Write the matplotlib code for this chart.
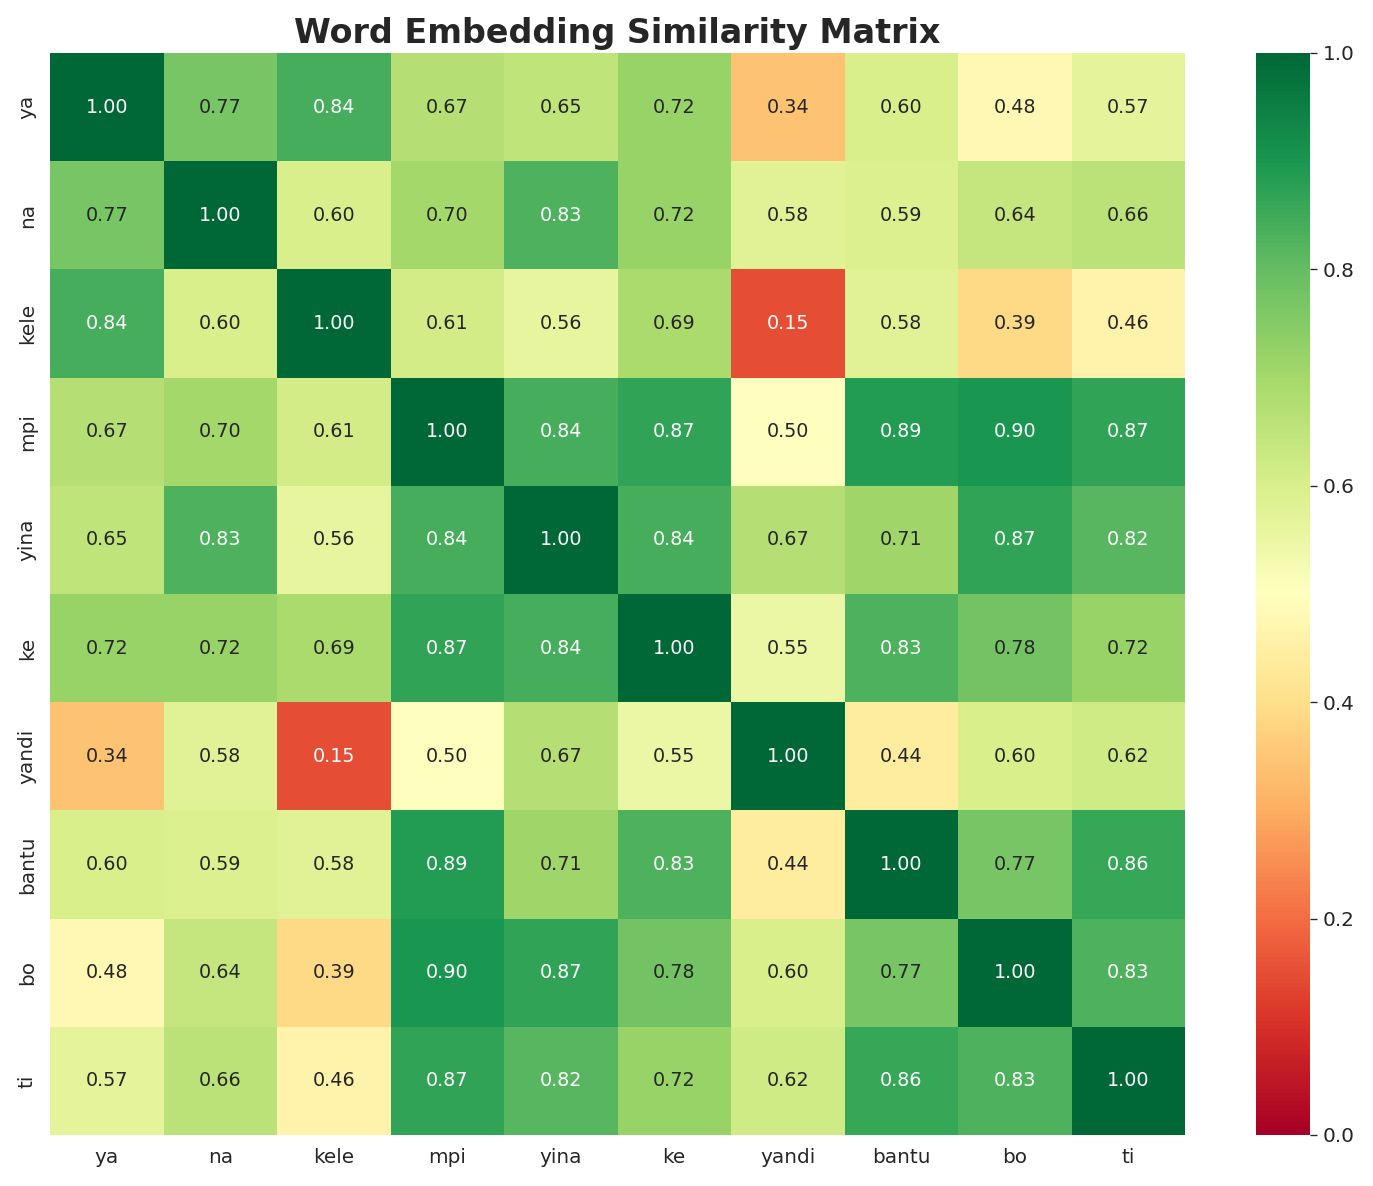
import matplotlib
matplotlib.use("Agg")
import matplotlib.pyplot as plt
import seaborn as sns
import numpy as np

words = ["ya", "na", "kele", "mpi", "yina", "ke", "yandi", "bantu", "bo", "ti"]
row_ya    = [1.00, 0.77, 0.84, 0.67, 0.65, 0.72, 0.34, 0.60, 0.48, 0.57]
row_na    = [0.77, 1.00, 0.60, 0.70, 0.83, 0.72, 0.58, 0.59, 0.64, 0.66]
row_kele  = [0.84, 0.60, 1.00, 0.61, 0.56, 0.69, 0.15, 0.58, 0.39, 0.46]
row_mpi   = [0.67, 0.70, 0.61, 1.00, 0.84, 0.87, 0.50, 0.89, 0.90, 0.87]
row_yina  = [0.65, 0.83, 0.56, 0.84, 1.00, 0.84, 0.67, 0.71, 0.87, 0.82]
row_ke    = [0.72, 0.72, 0.69, 0.87, 0.84, 1.00, 0.55, 0.83, 0.78, 0.72]
row_yandi = [0.34, 0.58, 0.15, 0.50, 0.67, 0.55, 1.00, 0.44, 0.60, 0.62]
row_bantu = [0.60, 0.59, 0.58, 0.89, 0.71, 0.83, 0.44, 1.00, 0.77, 0.86]
row_bo    = [0.48, 0.64, 0.39, 0.90, 0.87, 0.78, 0.60, 0.77, 1.00, 0.83]
row_ti    = [0.57, 0.66, 0.46, 0.87, 0.82, 0.72, 0.62, 0.86, 0.83, 1.00]

matrix = np.array([row_ya, row_na, row_kele, row_mpi, row_yina,
                   row_ke, row_yandi, row_bantu, row_bo, row_ti])

sns.set_style("white")
plt.rcParams['font.family'] = ['DejaVu Sans']

W, H, DPI = 1373, 1186, 120
fig = plt.figure(figsize=(W / DPI, H / DPI), dpi=DPI)
ax = fig.add_axes([50 / W, (H - 1135) / H, 1135 / W, 1082 / H])
cax = fig.add_axes([1256 / W, (H - 1135) / H, 54 / W, 1082 / H])

sns.heatmap(matrix, ax=ax, cbar_ax=cax, cmap="RdYlGn", vmin=0, vmax=1,
            annot=True, fmt=".2f", annot_kws={"fontsize": 11.5},
            xticklabels=words, yticklabels=words)

ax.set_title("Word Embedding Similarity Matrix", fontsize=20,
             fontweight="bold", color="#262626", pad=6)
ax.tick_params(axis="both", length=0, labelsize=12, colors="#262626", pad=8)
plt.setp(ax.get_yticklabels(), rotation=90, va="center")
plt.setp(ax.get_xticklabels(), rotation=0)
cax.tick_params(labelsize=12, colors="#262626", length=4)
for s in cax.spines.values():
    s.set_visible(False)

fig.savefig("out.png", dpi=DPI)
